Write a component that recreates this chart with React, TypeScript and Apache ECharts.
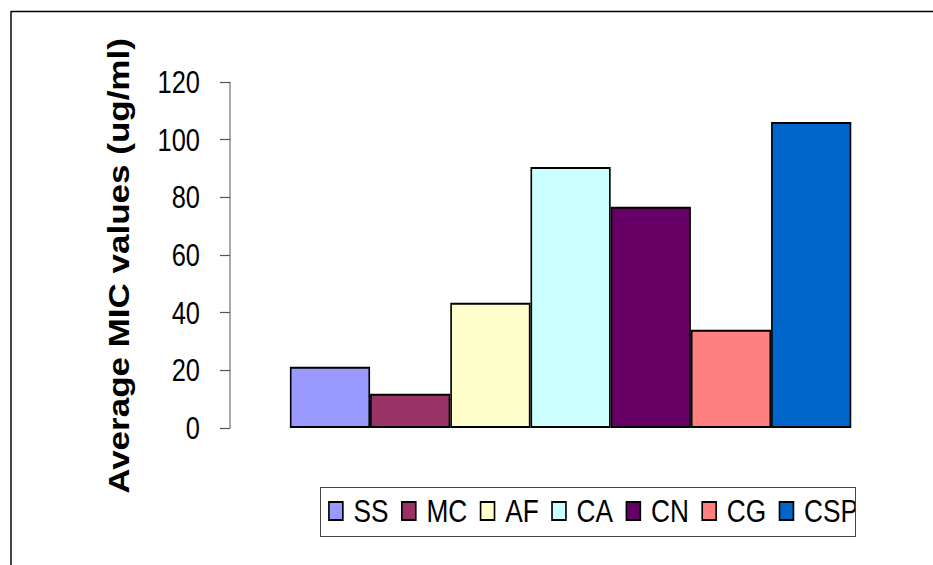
import React, { useEffect, useRef } from "react";
import * as echarts from "echarts";

const seriesNames = ["SS", "MC", "AF", "CA", "CN", "CG", "CSP"];
const seriesValues = [21.2, 11.9, 43.4, 90.5, 76.7, 34.1, 106.1];
const seriesColors = ["#9999FF", "#993366", "#FFFFCC", "#CCFFFF", "#660066", "#FF8080", "#0066CC"];
const categories = [""];
const yTicks = { min: 0, max: 120, interval: 20 };
const yTitle = "Average MIC values (ug/ml)";

// The reference is horizontally condensed; the chart is drawn wider and squeezed.
const SX = 0.82;
const W = 933 / SX;
const X = (v: number) => v / SX;
const font = '"Liberation Sans", Arial, sans-serif';

export default function App() {
  const ref = useRef<HTMLDivElement>(null);
  useEffect(() => {
    if (!ref.current) return;
    const chart = echarts.init(ref.current, null, { renderer: "svg" });
    chart.setOption({
      animation: false,
      backgroundColor: "#ffffff",
      grid: { left: X(230), right: W - X(911), top: 82, bottom: 137 },
      legend: {
        data: seriesNames,
        left: X(324),
        top: 490,
        orient: "horizontal",
        icon: "rect",
        itemWidth: 17,
        itemHeight: 18,
        itemGap: X(12.5),
        itemStyle: { borderColor: "#000", borderWidth: 2 },
        textStyle: { fontFamily: font, fontSize: 32, color: "#000", lineHeight: 32, padding: [0, 0, 0, 8] },
        selectedMode: false,
      },
      xAxis: {
        type: "category",
        data: categories,
        axisLine: { show: false },
        axisTick: { show: false },
        axisLabel: { show: false },
        splitLine: { show: false },
      },
      yAxis: {
        type: "value",
        min: yTicks.min,
        max: yTicks.max,
        interval: yTicks.interval,
        axisLine: { show: true, lineStyle: { color: "#555", width: 1.2 } },
        axisTick: { show: true, inside: false, length: X(10), lineStyle: { color: "#555", width: 1.2 } },
        axisLabel: { fontFamily: font, fontSize: 31, color: "#000", margin: X(30) },
        splitLine: { show: false },
      },
      series: seriesNames.map((name, i) => ({
        type: "bar",
        name,
        data: [seriesValues[i]],
        barWidth: X(80.2),
        barGap: "0%",
        itemStyle: { color: seriesColors[i], borderColor: "#000", borderWidth: 2 },
      })),
      graphic: [
        { type: "line", shape: { x1: X(11), y1: 11.5, x2: W, y2: 11.5 }, style: { stroke: "#000", lineWidth: 1.5 }, z: 100 },
        { type: "line", shape: { x1: X(11), y1: 11, x2: X(11), y2: 565 }, style: { stroke: "#000", lineWidth: 1.8 }, z: 100 },
        { type: "rect", shape: { x: X(856), y: 489, width: 60, height: 46 }, style: { fill: "#fff" }, z: 100 },
        { type: "rect", shape: { x: X(320.5), y: 487.5, width: X(535), height: 49 }, style: { fill: "none", stroke: "#444", lineWidth: 1.2 }, z: 101 },
        {
          type: "text",
          x: X(119),
          y: 266,
          rotation: Math.PI / 2,
          style: {
            text: yTitle,
            font: 'bold 35px "Liberation Sans", Arial, sans-serif',
            fill: "#000",
            align: "center",
            verticalAlign: "middle",
          },
          z: 100,
        },
      ],
    });
    return () => chart.dispose();
  }, []);
  return (
    <div style={{ position: "absolute", left: 0, top: 0, width: 933, height: 565, overflow: "hidden", background: "#fff" }}>
      <div
        ref={ref}
        style={{ width: W, height: 565, transform: `scaleX(${SX})`, transformOrigin: "0 0" }}
      />
    </div>
  );
}
